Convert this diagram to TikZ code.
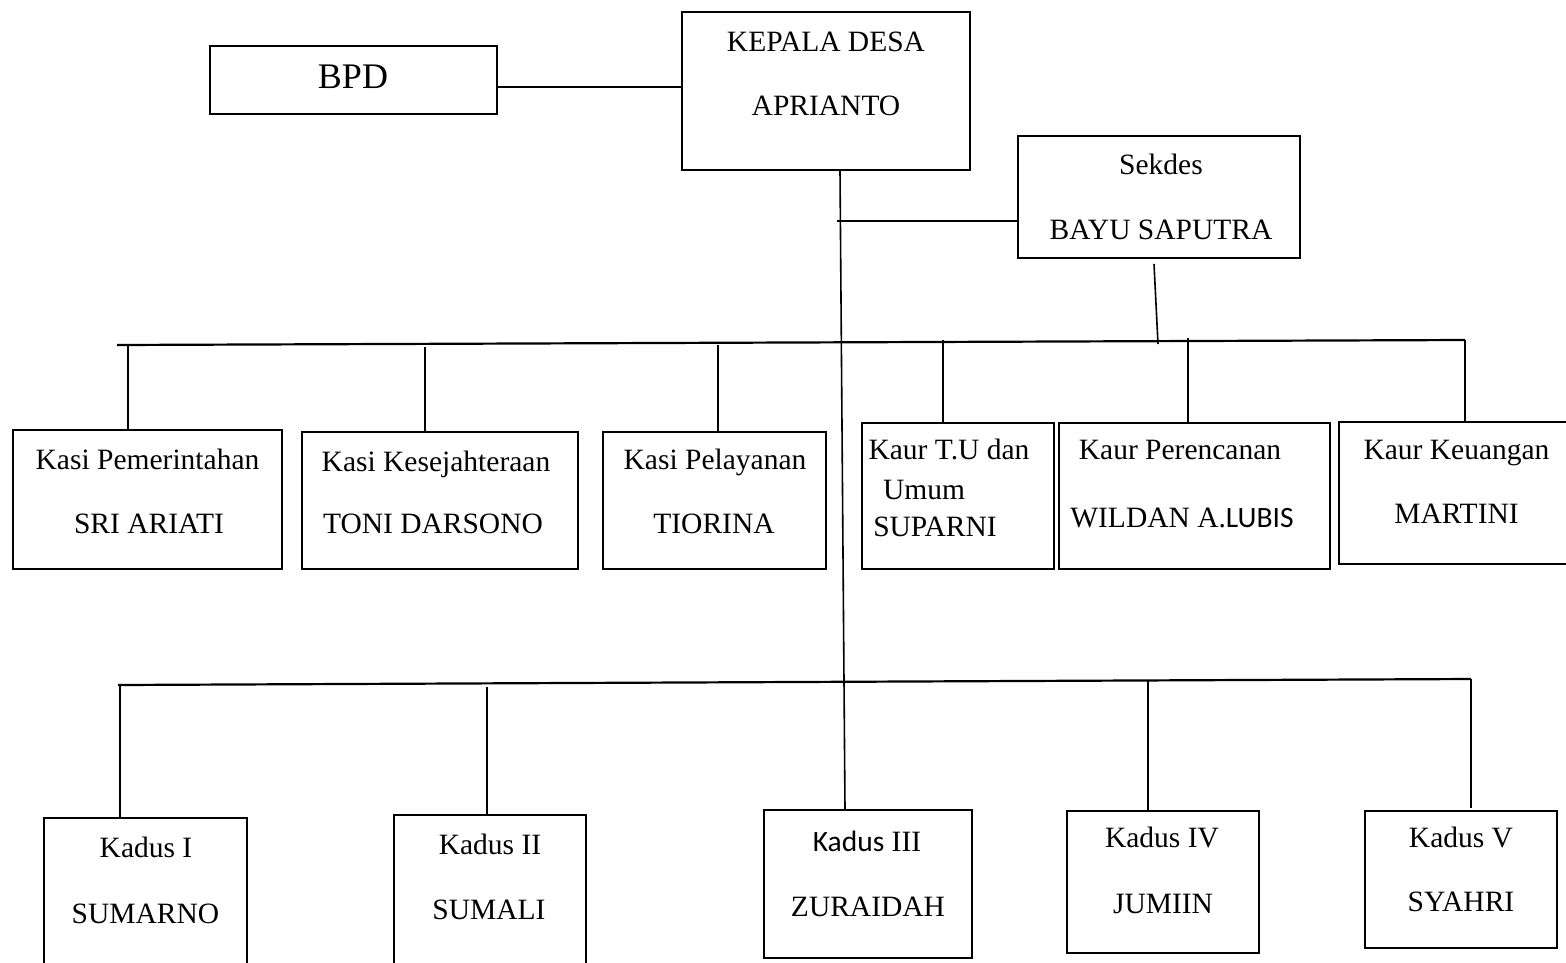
\documentclass[tikz,border=0pt]{standalone}
\usepackage{fontspec}
\setmainfont{Liberation Serif}
\newfontfamily\calibrifont{Carlito}

\begin{document}
\begin{tikzpicture}[x=1pt, y=-1pt,
  box/.style={rectangle, draw, line width=1.7pt, inner sep=0pt},
  lbl/.style={anchor=base, inner sep=0pt, font=\fontsize{29.5}{31}\selectfont},
  link/.style={line width=1.6pt},
  bus/.style={line width=2.2pt}]
\path[use as bounding box, clip] (0,0) rectangle (1566,962);

  % top: BPD and kepala desa
  \node[box, minimum width=287pt, minimum height=68pt] (bpd) at (353.5,80) {};
  \node[lbl, font=\fontsize{36}{40}\selectfont] (bpd-t) at (353,88) {BPD};

  \node[box, minimum width=288pt, minimum height=158pt] (kades) at (826,91) {};
  \node[lbl] (kades-t1) at (826,51) {KEPALA DESA};
  \node[lbl] (kades-t2) at (826,115) {APRIANTO};

  \draw[link] ([yshift=-7pt]bpd.east) -- ([yshift=4pt]kades.west);

  % sekdes
  \node[box, minimum width=282pt, minimum height=122pt] (sekdes) at (1159,197) {};
  \node[lbl] (sekdes-t1) at (1161,174) {Sekdes};
  \node[lbl] (sekdes-t2) at (1161,239) {BAYU SAPUTRA};

  \coordinate (tap) at (837,221);
  \draw[link] (tap) -- (tap -| sekdes.west);

  % kasi and kaur row
  \node[box, minimum width=269pt, minimum height=139pt] (kasi1) at (147.5,499.5) {};
  \node[lbl] (kasi1-t1) at (147.5,469) {Kasi Pemerintahan};
  \node[lbl] (kasi1-t2) at (149,533) {SRI ARIATI};

  \node[box, minimum width=276pt, minimum height=137pt] (kasi2) at (440,500.5) {};
  \node[lbl] (kasi2-t1) at (436,471) {Kasi Kesejahteraan};
  \node[lbl] (kasi2-t2) at (433,533) {TONI DARSONO};

  \node[box, minimum width=223pt, minimum height=137pt] (kasi3) at (714.5,500.5) {};
  \node[lbl] (kasi3-t1) at (715,469) {Kasi Pelayanan};
  \node[lbl] (kasi3-t2) at (714,533) {TIORINA};

  \node[box, minimum width=192pt, minimum height=146pt] (kaur1) at (958,496) {};
  \node[lbl] (kaur1-t1) at (949,459) {Kaur T.U dan};
  \node[lbl] (kaur1-t2) at (924,499) {Umum};
  \node[lbl] (kaur1-t3) at (935,536) {SUPARNI};

  \node[box, minimum width=271pt, minimum height=146pt] (kaur2) at (1194.5,496) {};
  \node[lbl] (kaur2-t1) at (1180,459) {Kaur Perencanan};
  \node[lbl] (kaur2-t2) at (1182,527) {WILDAN A.{\calibrifont LUBIS}};

  \node[box, minimum width=241pt, minimum height=142pt] (kaur3) at (1459.5,493) {};
  \node[lbl] (kaur3-t1) at (1456.5,459) {Kaur Keuangan};
  \node[lbl] (kaur3-t2) at (1456.5,523) {MARTINI};

  \coordinate (sekdes-in) at (1158,344);
  \draw[link] ([xshift=-5pt,yshift=-5pt]sekdes.south) -- (sekdes-in);

  \coordinate (busA-l) at (117,345);
  \coordinate (busA-r) at (1465,340);
  \draw[bus] (busA-l) -- (busA-r);
  \draw[link] (busA-r) -- (busA-r |- kaur3.north);
  \foreach \n/\x/\y in {kasi1/128/345, kasi2/425/347, kasi3/718/345,
                        kaur1/943/340, kaur2/1188/338}
    {\coordinate (d-\n) at (\x,\y);
     \draw[link] (d-\n) -- (d-\n |- \n.north);}

  % kadus row
  \node[box, minimum width=203pt, minimum height=167pt] (kadus1) at (145.5,901.5) {};
  \node[lbl] (kadus1-t1) at (146,857) {Kadus I};
  \node[lbl] (kadus1-t2) at (145.5,923) {SUMARNO};

  \node[box, minimum width=192pt, minimum height=170pt] (kadus2) at (490,900) {};
  \node[lbl] (kadus2-t1) at (490,854) {Kadus II};
  \node[lbl] (kadus2-t2) at (489,919) {SUMALI};

  \node[box, minimum width=208pt, minimum height=148pt] (kadus3) at (868,884) {};
  \node[lbl] (kadus3-t1) at (867,851) {{\calibrifont Kadus} III};
  \node[lbl] (kadus3-t2) at (868,916) {ZURAIDAH};

  \node[box, minimum width=192pt, minimum height=142pt] (kadus4) at (1163,882) {};
  \node[lbl] (kadus4-t1) at (1162,847) {Kadus IV};
  \node[lbl] (kadus4-t2) at (1163,913) {JUMIIN};

  \node[box, minimum width=192pt, minimum height=137pt] (kadus5) at (1461,879.5) {};
  \node[lbl] (kadus5-t1) at (1461,847) {Kadus V};
  \node[lbl] (kadus5-t2) at (1461,911) {SYAHRI};

  \draw[link] ([xshift=14pt]kades.south) -- ([xshift=-23pt]kadus3.north);

  \coordinate (busB-l) at (118,685);
  \coordinate (busB-r) at (1471,679);
  \draw[bus] (busB-l) -- (busB-r);
  \draw[link] (busB-r) -- ++(0,129);
  \foreach \n/\x/\y in {kadus1/120/685, kadus2/487/687, kadus4/1148/681}
    {\coordinate (d-\n) at (\x,\y);
     \draw[link] (d-\n) -- (d-\n |- \n.north);}

\end{tikzpicture}
\end{document}
